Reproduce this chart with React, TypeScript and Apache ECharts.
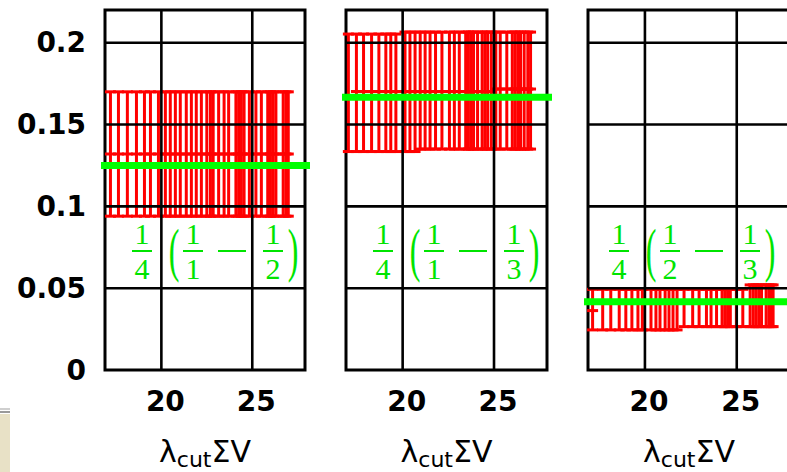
import React, { useEffect, useRef } from "react";
import * as echarts from "echarts";

// Axis ticks and ranges
const xTicks = [20, 25];
const yTicks = [0, 0.05, 0.1, 0.15, 0.2];
const X_MIN = 16.9;
const X_MAX = 27.9;
const Y_MIN = 0;
const Y_MAX = 0.22;

// Panel 1 error bars: x, lower end, centre, upper end
const xs1 = [17.2, 17.64, 18.13, 18.63, 19.07, 19.4, 19.84, 20.22, 20.49, 20.77, 21.04, 21.37, 21.65, 21.92, 22.2, 22.5, 22.7, 22.85, 23.15, 23.45, 23.7, 24.1, 24.25, 24.4, 24.55, 24.84, 25.2, 25.5, 25.85, 26.0, 26.15, 26.3, 26.7, 26.85, 26.98];
const lo1 = [0.094, 0.094, 0.094, 0.094, 0.094, 0.094, 0.094, 0.094, 0.094, 0.094,
  0.094, 0.094, 0.094, 0.094, 0.094, 0.094, 0.094, 0.094, 0.094, 0.094,
  0.094, 0.094, 0.094, 0.094, 0.094, 0.094, 0.094, 0.094, 0.094, 0.094,
  0.094, 0.094, 0.094, 0.094, 0.094];
const mid1 = [0.132, 0.132, 0.132, 0.132, 0.132, 0.132, 0.132, 0.132, 0.132, 0.132,
  0.132, 0.132, 0.132, 0.132, 0.132, 0.132, 0.132, 0.132, 0.132, 0.132,
  0.132, 0.132, 0.132, 0.132, 0.132, 0.132, 0.132, 0.132, 0.132, 0.132,
  0.132, 0.132, 0.132, 0.132, 0.132];
const hi1 = [0.170, 0.170, 0.170, 0.170, 0.170, 0.170, 0.170, 0.170, 0.170, 0.170,
  0.170, 0.170, 0.170, 0.170, 0.170, 0.170, 0.170, 0.170, 0.170, 0.170,
  0.170, 0.170, 0.170, 0.170, 0.170, 0.170, 0.170, 0.170, 0.170, 0.170,
  0.170, 0.170, 0.170, 0.170, 0.170];

// Panel 2
const xs2 = [17.03, 17.47, 17.86, 18.3, 18.7, 19.08, 19.35, 19.63, 20.13, 20.4, 20.68, 20.96, 21.23, 21.5, 21.8, 22.15, 22.56, 22.83, 23.1, 23.45, 23.6, 23.75, 23.88, 24.1, 24.35, 24.5, 24.65, 24.85, 25.1, 25.34, 25.7, 26.0, 26.15, 26.3, 26.45, 26.65, 26.85, 27.0];
const lo2 = [0.1335, 0.1335, 0.1335, 0.1335, 0.1335, 0.1335, 0.1335, 0.1335, 0.1335, 0.1335,
  0.1335, 0.135, 0.135, 0.135, 0.135, 0.135, 0.135, 0.135, 0.135, 0.135,
  0.135, 0.135, 0.135, 0.135, 0.135, 0.135, 0.135, 0.135, 0.135, 0.135,
  0.135, 0.135, 0.135, 0.135, 0.135, 0.135, 0.135, 0.135];
const mid2 = [0.166, 0.1702, 0.1702, 0.1702, 0.1702, 0.1702, 0.1702, 0.1702, 0.1702, 0.1702,
  0.1702, 0.1702, 0.1702, 0.1702, 0.1702, 0.1702, 0.1702, 0.1702, 0.1702, 0.1702,
  0.1702, 0.1702, 0.1702, 0.1702, 0.1702, 0.1702, 0.1702, 0.1702, 0.1717, 0.1717,
  0.1717, 0.1717, 0.1717, 0.1717, 0.1717, 0.1717, 0.1717, 0.1717];
const hi2 = [0.2053, 0.2053, 0.2053, 0.2053, 0.2053, 0.2053, 0.2053, 0.2053, 0.2065, 0.2065,
  0.2065, 0.2065, 0.2065, 0.2065, 0.2065, 0.2065, 0.2065, 0.2065, 0.2065, 0.2065,
  0.2065, 0.2065, 0.2065, 0.2065, 0.2065, 0.2065, 0.2065, 0.2065, 0.2065, 0.2065,
  0.2065, 0.2065, 0.2065, 0.2065, 0.2065, 0.2065, 0.2065, 0.2065];

// Panel 3
const xs3 = [17.15, 17.7, 18.14, 18.6, 18.96, 19.29, 19.62, 19.86, 20.33, 20.6, 20.82, 21.1, 21.31, 21.53, 21.75, 22.13, 22.6, 22.95, 23.35, 23.6, 23.9, 24.2, 24.35, 24.5, 24.65, 24.98, 25.33, 25.73, 25.9, 26.05, 26.2, 26.35, 26.6, 26.75, 26.88, 26.98];
const lo3 = [0.0245, 0.0245, 0.0245, 0.0245, 0.0245, 0.0245, 0.0245, 0.0245, 0.0245, 0.0245,
  0.0245, 0.0245, 0.0245, 0.0245, 0.0245, 0.0265, 0.0265, 0.0265, 0.0265, 0.0265,
  0.0265, 0.0265, 0.0265, 0.0265, 0.0265, 0.0265, 0.0265, 0.0265, 0.0265, 0.0265,
  0.0265, 0.0265, 0.0265, 0.0265, 0.0265, 0.0265];
const mid3 = [0.0363, 0.041, 0.041, 0.041, 0.041, 0.041, 0.041, 0.041, 0.041, 0.041,
  0.041, 0.041, 0.041, 0.041, 0.041, 0.041, 0.041, 0.041, 0.041, 0.041,
  0.041, 0.041, 0.041, 0.041, 0.041, 0.041, 0.041, 0.041, 0.041, 0.041,
  0.041, 0.041, 0.041, 0.041, 0.041, 0.041];
const hi3 = [0.0493, 0.0493, 0.0493, 0.0493, 0.0493, 0.0493, 0.0493, 0.0493, 0.0493, 0.0493,
  0.0493, 0.0493, 0.0493, 0.0493, 0.0493, 0.0493, 0.0493, 0.0493, 0.0493, 0.0493,
  0.0493, 0.0493, 0.0493, 0.0493, 0.0493, 0.0493, 0.0493, 0.052, 0.052, 0.052,
  0.052, 0.052, 0.052, 0.052, 0.052, 0.052];

// Reference values: (1/4)(1/a - 1/b)
const prefactorDen = 4;
const fracA = [1, 1, 2];
const fracB = [2, 3, 3];

const RED = "#ff0000";
const GREEN = "#00ff00";
const GREEN_TEXT = "#00e400";
const TICK_FONT = "DejaVu Sans";
const MATH_FONT = "Liberation Serif";

const PANELS = [
  { left: 105, width: 200, shift: 0, xs: xs1, lo: lo1, mid: mid1, hi: hi1 },
  { left: 346, width: 201, shift: 0, xs: xs2, lo: lo2, mid: mid2, hi: hi2 },
  { left: 588, width: 202, shift: -6, xs: xs3, lo: lo3, mid: mid3, hi: hi3 },
];
const TOP = 10;
const HEIGHT = 360;

function fractionParts(cx: number, num: number, den: number) {
  const txt = (s: string, y: number) => ({
    type: "text",
    x: cx,
    y,
    z: 10,
    silent: true,
    style: {
      text: s,
      fill: GREEN_TEXT,
      fontFamily: MATH_FONT,
      fontSize: 30,
      align: "center",
      verticalAlign: "middle",
    },
  });
  return [
    txt(String(num), 233),
    {
      type: "line",
      z: 10,
      silent: true,
      shape: { x1: cx - 10, y1: 251, x2: cx + 10, y2: 251 },
      style: { stroke: GREEN_TEXT, lineWidth: 2 },
    },
    txt(String(den), 268),
  ];
}

function paren(cx: number, s: string) {
  return {
    type: "text",
    x: cx,
    y: 250,
    z: 10,
    silent: true,
    scaleY: 1.85,
    style: {
      text: s,
      fill: GREEN_TEXT,
      fontFamily: MATH_FONT,
      fontSize: 32,
      align: "center",
      verticalAlign: "middle",
    },
  };
}

function formula(i: number) {
  const base = PANELS[i].left + PANELS[i].shift;
  return [
    ...fractionParts(base + 37, 1, prefactorDen),
    paren(base + 69, "("),
    ...fractionParts(base + 88, 1, fracA[i]),
    {
      type: "line",
      z: 10,
      silent: true,
      shape: { x1: base + 113, y1: 251, x2: base + 141, y2: 251 },
      style: { stroke: GREEN_TEXT, lineWidth: 2 },
    },
    ...fractionParts(base + 168, 1, fracB[i]),
    paren(base + 188, ")"),
  ];
}

export default function App() {
  const ref = useRef<HTMLDivElement>(null);

  useEffect(() => {
    if (!ref.current) return;
    const chart = echarts.init(ref.current, null, { renderer: "svg" });

    const grids = PANELS.map((p) => ({
      left: p.left,
      top: TOP,
      width: p.width,
      height: HEIGHT,
      show: true,
      borderColor: "#000",
      borderWidth: 3,
      backgroundColor: "transparent",
      containLabel: false,
      outerBoundsMode: "none",
    }));

    const xAxes = PANELS.map((_, i) => ({
      type: "value",
      gridIndex: i,
      min: X_MIN,
      max: X_MAX,
      axisLine: { show: false },
      axisTick: { show: false },
      splitLine: { show: false },
      axisLabel: {
        customValues: xTicks,
        color: "#000",
        fontFamily: TICK_FONT,
        fontWeight: "bold",
        fontSize: 28,
        margin: 17,
        padding: [0, 0, 0, 8],
      },
      name: "{m|λ}{s|cut}{m|ΣV}",
      nameLocation: "middle",
      nameGap: 66,
      nameTextStyle: {
        rich: {
          m: {
            fontFamily: TICK_FONT,
            fontSize: 30,
            color: "#000",
            lineHeight: 34,
            verticalAlign: "top",
          },
          s: {
            fontFamily: TICK_FONT,
            fontSize: 22,
            color: "#000",
            lineHeight: 22,
            padding: [21, 0, 0, 0],
            verticalAlign: "bottom",
          },
        },
      },
    }));

    const yAxes = PANELS.map((_, i) => ({
      type: "value",
      gridIndex: i,
      min: Y_MIN,
      max: Y_MAX,
      axisLine: { show: false },
      axisTick: { show: false },
      splitLine: { show: false },
      axisLabel: {
        show: i === 0,
        customValues: yTicks,
        color: "#000",
        fontFamily: TICK_FONT,
        fontWeight: "bold",
        fontSize: 28,
        margin: 19,
      },
    }));

    const series: any[] = [];
    PANELS.forEach((p, i) => {
      // red error bars with end caps and a centre tick
      series.push({
        type: "custom",
        xAxisIndex: i,
        yAxisIndex: i,
        z: 2,
        silent: true,
        clip: false,
        encode: { x: 0, y: [1, 2, 3] },
        data: p.xs.map((x, k) => [x, p.lo[k], p.mid[k], p.hi[k]]),
        renderItem: (params: any, api: any) => {
          const x = api.value(0);
          const pl = api.coord([x, api.value(1)]);
          const pm = api.coord([x, api.value(2)]);
          const ph = api.coord([x, api.value(3)]);
          const style = { stroke: RED, lineWidth: 3 };
          const cap = 5.5;
          return {
            type: "group",
            children: [
              { type: "line", shape: { x1: pl[0], y1: pl[1], x2: ph[0], y2: ph[1] }, style },
              ...[pl, pm, ph].map((pt) => ({
                type: "line",
                shape: { x1: pt[0] - cap, y1: pt[1], x2: pt[0] + cap, y2: pt[1] },
                style,
              })),
            ],
          };
        },
      });
      // vertical grid lines at the x ticks
      series.push({
        type: "custom",
        xAxisIndex: i,
        yAxisIndex: i,
        z: 3,
        silent: true,
        clip: false,
        data: xTicks.map((t) => [t, Y_MIN]),
        renderItem: (params: any, api: any) => {
          const cs = params.coordSys;
          const pt = api.coord([api.value(0), api.value(1)]);
          return {
            type: "line",
            shape: { x1: pt[0], y1: cs.y, x2: pt[0], y2: cs.y + cs.height },
            style: { stroke: "#000", lineWidth: 2.6 },
          };
        },
      });
      // horizontal grid lines at the y ticks
      series.push({
        type: "custom",
        xAxisIndex: i,
        yAxisIndex: i,
        z: 3,
        silent: true,
        clip: false,
        data: yTicks.filter((t) => t > Y_MIN).map((t) => [X_MIN, t]),
        renderItem: (params: any, api: any) => {
          const cs = params.coordSys;
          const pt = api.coord([api.value(0), api.value(1)]);
          return {
            type: "line",
            shape: { x1: cs.x, y1: pt[1], x2: cs.x + cs.width, y2: pt[1] },
            style: { stroke: "#000", lineWidth: 2.6 },
          };
        },
      });
      // green reference level
      const level = (1 / prefactorDen) * (1 / fracA[i] - 1 / fracB[i]);
      series.push({
        type: "custom",
        xAxisIndex: i,
        yAxisIndex: i,
        z: 4,
        silent: true,
        clip: false,
        data: [[X_MIN, level]],
        renderItem: (params: any, api: any) => {
          const cs = params.coordSys;
          const pt = api.coord([api.value(0), api.value(1)]);
          return {
            type: "line",
            shape: { x1: cs.x - 4, y1: pt[1], x2: cs.x + cs.width + 5, y2: pt[1] },
            style: { stroke: GREEN, lineWidth: 7 },
          };
        },
      });
    });

    const graphics: any[] = [
      ...formula(0),
      ...formula(1),
      ...formula(2),
      // window edge at the lower left
      { type: "rect", silent: true, shape: { x: 0, y: 408, width: 10, height: 2 }, style: { fill: "#cfcfcf" } },
      { type: "rect", silent: true, shape: { x: 0, y: 411, width: 10, height: 2 }, style: { fill: "#9a9a9a" } },
      { type: "rect", silent: true, shape: { x: 0, y: 414, width: 10, height: 58 }, style: { fill: "#e8e1c6" } },
    ];

    chart.setOption({
      animation: false,
      backgroundColor: "#ffffff",
      grid: grids,
      xAxis: xAxes,
      yAxis: yAxes,
      series,
      graphic: { elements: graphics },
    });

    return () => chart.dispose();
  }, []);

  return (
    <div
      ref={ref}
      style={{ position: "fixed", left: 0, top: 0, width: 787, height: 472, background: "#fff" }}
    />
  );
}
